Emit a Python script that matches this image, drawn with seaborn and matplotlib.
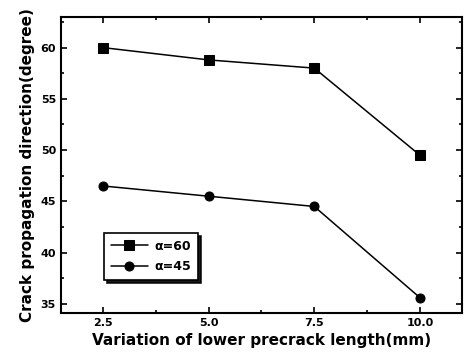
import matplotlib
matplotlib.use("Agg")
import matplotlib.pyplot as plt
import seaborn as sns
import pandas as pd
from matplotlib.ticker import MultipleLocator, AutoMinorLocator

lengths = [2.5, 5.0, 7.5, 10.0]
alpha60 = [60.0, 58.8, 58.0, 49.5]
alpha45 = [46.5, 45.5, 44.5, 35.6]
series_labels = ["α=60", "α=45"]

df = pd.DataFrame({
    "x": lengths * 2,
    "y": alpha60 + alpha45,
    "series": [series_labels[0]] * 4 + [series_labels[1]] * 4,
})

sns.set_style("ticks")
plt.rcParams["font.family"] = ["DejaVu Sans"]
plt.rcParams["text.color"] = "black"
plt.rcParams["axes.labelcolor"] = "black"
plt.rcParams["xtick.color"] = "black"
plt.rcParams["ytick.color"] = "black"

fig = plt.figure(figsize=(4.75, 3.59), dpi=100)
ax = fig.add_axes([0.128, 0.128, 0.845, 0.825])

sns.lineplot(data=df, x="x", y="y", hue="series", style="series",
             palette=["black", "black"], markers={series_labels[0]: "s", series_labels[1]: "o"},
             dashes=False, markersize=6.5, linewidth=1.1, ax=ax,
             markeredgecolor="black")

ax.set_xlim(1.5, 11.0)
ax.set_ylim(34.1, 63.0)
ax.set_xticks(lengths)
ax.set_xticklabels(["2.5", "5.0", "7.5", "10.0"])
ax.xaxis.set_minor_locator(AutoMinorLocator(2))
ax.yaxis.set_major_locator(MultipleLocator(5))
ax.yaxis.set_minor_locator(AutoMinorLocator(2))
ax.tick_params(which="both", direction="in", top=True, right=True, width=1.2, colors="black")
ax.tick_params(which="major", length=4, labelsize=8)
ax.tick_params(which="minor", length=2.5)
for lbl in ax.get_xticklabels() + ax.get_yticklabels():
    lbl.set_fontweight("bold")
for sp in ax.spines.values():
    sp.set_linewidth(1.5)
    sp.set_color("black")

ax.set_xlabel("Variation of lower precrack length(mm)", fontsize=11, fontweight="bold", color="black")
ax.set_ylabel("Crack propagation direction(degree)", fontsize=11, fontweight="bold", color="black")

leg = ax.legend(loc="lower left", bbox_to_anchor=(0.107, 0.111), borderaxespad=0,
                frameon=True, shadow={"color": "black", "alpha": 0.9}, fancybox=False, edgecolor="black",
                prop={"weight": "bold", "size": 9}, handlelength=3.0, labelspacing=0.6,
                borderpad=0.55, handletextpad=0.5)
leg.get_frame().set_linewidth(1.2)

fig.savefig("out.png", dpi=100)
